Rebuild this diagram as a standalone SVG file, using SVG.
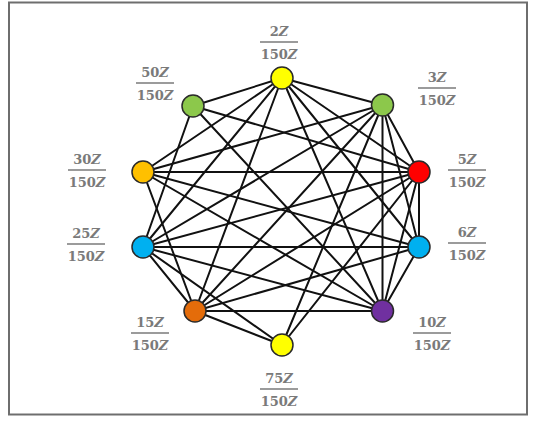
<svg xmlns="http://www.w3.org/2000/svg" width="535" height="421" viewBox="0 0 535 421">
  <style>
    .frame { fill: #ffffff; stroke: #6e6e6e; stroke-width: 2; }
    .edge { stroke: #111111; stroke-width: 2; stroke-linecap: round; }
    .dot { stroke: #2a2a2a; stroke-width: 1.5; }
    .lbl { font-family: "DejaVu Serif", "Liberation Serif", serif; font-size: 13px; font-weight: bold; fill: #7a7a7a; text-anchor: middle; }
    .lbl .v { font-style: italic; }
    .bar { stroke: #7a7a7a; stroke-width: 1.5; }
  </style>
  <defs>
    <!-- fraction "nZ / 150Z" with the bar at y=0 -->
    <g id="den">
      <line class="bar" x1="-19" y1="0" x2="19" y2="0"/>
      <text class="lbl" x="0" y="17">150<tspan class="v">Z</tspan></text>
    </g>
  </defs>

  <rect class="frame" x="9" y="2.5" width="518" height="412"/>

  <g id="connectors">
    <!-- 2Z -->
    <line class="edge" x1="282" y1="78" x2="382.5" y2="105"/>
    <line class="edge" x1="282" y1="78" x2="419" y2="172"/>
    <line class="edge" x1="282" y1="78" x2="419" y2="247"/>
    <line class="edge" x1="282" y1="78" x2="382.5" y2="311"/>
    <line class="edge" x1="282" y1="78" x2="195" y2="311"/>
    <line class="edge" x1="282" y1="78" x2="143" y2="247"/>
    <line class="edge" x1="282" y1="78" x2="143" y2="172"/>
    <line class="edge" x1="282" y1="78" x2="193" y2="106"/>
    <!-- 3Z -->
    <line class="edge" x1="382.5" y1="105" x2="419" y2="172"/>
    <line class="edge" x1="382.5" y1="105" x2="419" y2="247"/>
    <line class="edge" x1="382.5" y1="105" x2="382.5" y2="311"/>
    <line class="edge" x1="382.5" y1="105" x2="195" y2="311"/>
    <line class="edge" x1="382.5" y1="105" x2="143" y2="247"/>
    <line class="edge" x1="382.5" y1="105" x2="143" y2="172"/>
    <line class="edge" x1="382.5" y1="105" x2="282" y2="345"/>
    <!-- 5Z -->
    <line class="edge" x1="419" y1="172" x2="419" y2="247"/>
    <line class="edge" x1="419" y1="172" x2="382.5" y2="311"/>
    <line class="edge" x1="419" y1="172" x2="195" y2="311"/>
    <line class="edge" x1="419" y1="172" x2="143" y2="247"/>
    <line class="edge" x1="419" y1="172" x2="143" y2="172"/>
    <line class="edge" x1="419" y1="172" x2="193" y2="106"/>
    <line class="edge" x1="419" y1="172" x2="282" y2="345"/>
    <!-- 6Z -->
    <line class="edge" x1="419" y1="247" x2="382.5" y2="311"/>
    <line class="edge" x1="419" y1="247" x2="195" y2="311"/>
    <line class="edge" x1="419" y1="247" x2="143" y2="172"/>
    <line class="edge" x1="419" y1="247" x2="143" y2="247"/>
    <!-- 10Z -->
    <line class="edge" x1="382.5" y1="311" x2="195" y2="311"/>
    <line class="edge" x1="382.5" y1="311" x2="143" y2="247"/>
    <line class="edge" x1="382.5" y1="311" x2="143" y2="172"/>
    <line class="edge" x1="382.5" y1="311" x2="193" y2="106"/>
    <!-- 15Z -->
    <line class="edge" x1="195" y1="311" x2="143" y2="247"/>
    <line class="edge" x1="195" y1="311" x2="143" y2="172"/>
    <line class="edge" x1="195" y1="311" x2="282" y2="345"/>
    <!-- 25Z -->
    <line class="edge" x1="143" y1="247" x2="193" y2="106"/>
    <line class="edge" x1="143" y1="247" x2="282" y2="345"/>
  </g>

  <g id="n2">
    <circle class="dot" cx="282" cy="78" r="11" fill="#ffff00"/>
    <text class="lbl" x="279" y="36">2<tspan class="v">Z</tspan></text>
    <use href="#den" x="279" y="42"/>
  </g>
  <g id="n3">
    <circle class="dot" cx="382.5" cy="105" r="11" fill="#8cc84b"/>
    <text class="lbl" x="437" y="82">3<tspan class="v">Z</tspan></text>
    <use href="#den" x="437" y="88"/>
  </g>
  <g id="n5">
    <circle class="dot" cx="419" cy="172" r="11" fill="#ff0000"/>
    <text class="lbl" x="467" y="164">5<tspan class="v">Z</tspan></text>
    <use href="#den" x="467" y="170"/>
  </g>
  <g id="n6">
    <circle class="dot" cx="419" cy="247" r="11" fill="#00b0f0"/>
    <text class="lbl" x="467" y="237">6<tspan class="v">Z</tspan></text>
    <use href="#den" x="467" y="243"/>
  </g>
  <g id="n10">
    <circle class="dot" cx="382.5" cy="311" r="11" fill="#7030a0"/>
    <text class="lbl" x="432" y="327">10<tspan class="v">Z</tspan></text>
    <use href="#den" x="432" y="333"/>
  </g>
  <g id="n75">
    <circle class="dot" cx="282" cy="345" r="11" fill="#ffff00"/>
    <text class="lbl" x="279" y="383">75<tspan class="v">Z</tspan></text>
    <use href="#den" x="279" y="389"/>
  </g>
  <g id="n15">
    <circle class="dot" cx="195" cy="311" r="11" fill="#e46c0a"/>
    <text class="lbl" x="150" y="327">15<tspan class="v">Z</tspan></text>
    <use href="#den" x="150" y="333"/>
  </g>
  <g id="n25">
    <circle class="dot" cx="143" cy="247" r="11" fill="#00b0f0"/>
    <text class="lbl" x="86" y="238">25<tspan class="v">Z</tspan></text>
    <use href="#den" x="86" y="244"/>
  </g>
  <g id="n30">
    <circle class="dot" cx="143" cy="172" r="11" fill="#ffc000"/>
    <text class="lbl" x="87" y="164">30<tspan class="v">Z</tspan></text>
    <use href="#den" x="87" y="170"/>
  </g>
  <g id="n50">
    <circle class="dot" cx="193" cy="106" r="11" fill="#8cc84b"/>
    <text class="lbl" x="155" y="77">50<tspan class="v">Z</tspan></text>
    <use href="#den" x="155" y="83"/>
  </g>
</svg>
